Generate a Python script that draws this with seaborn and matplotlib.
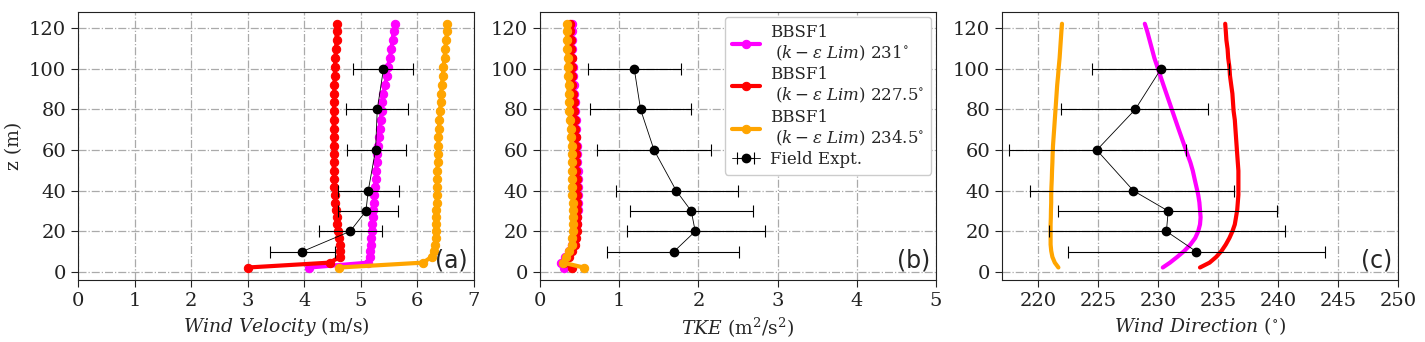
import numpy as np
import pandas as pd
import seaborn as sns
import matplotlib
matplotlib.use("Agg")
import matplotlib.pyplot as plt

# ---------------- data ----------------
heights = [2.2, 4.6, 7.4, 10.4, 13.5, 16.7, 20.0, 23.4, 26.9, 30.5, 34.2, 38.0,
           41.9, 45.8, 49.8, 53.9, 58.0, 62.2, 66.4, 70.6, 74.9, 79.2, 83.5, 87.8,
           92.1, 96.5, 100.9, 105.3, 109.7, 114.1, 118.5, 122.2]

u_231 = [4.09, 5.13, 5.16, 5.17, 5.18, 5.18, 5.19, 5.20, 5.21, 5.22, 5.23, 5.24,
         5.25, 5.26, 5.27, 5.28, 5.29, 5.30, 5.32, 5.33, 5.35, 5.37, 5.38, 5.40,
         5.43, 5.46, 5.48, 5.51, 5.54, 5.56, 5.58, 5.60]
u_2275 = [3.00, 4.45, 4.63, 4.64, 4.63, 4.61, 4.59, 4.58, 4.57, 4.56, 4.55, 4.54,
          4.53, 4.53, 4.52, 4.52, 4.52, 4.52, 4.52, 4.52, 4.52, 4.52, 4.53, 4.53,
          4.53, 4.54, 4.54, 4.55, 4.56, 4.57, 4.57, 4.58]
u_2345 = [4.62, 6.10, 6.25, 6.29, 6.31, 6.32, 6.32, 6.33, 6.33, 6.33, 6.34, 6.34,
          6.34, 6.35, 6.35, 6.36, 6.36, 6.37, 6.37, 6.38, 6.39, 6.40, 6.41, 6.42,
          6.43, 6.45, 6.46, 6.48, 6.49, 6.51, 6.52, 6.53]

k_231 = [0.30, 0.26, 0.32, 0.37, 0.41, 0.44, 0.46, 0.47, 0.47, 0.48, 0.48, 0.48,
         0.48, 0.48, 0.48, 0.47, 0.47, 0.47, 0.46, 0.46, 0.45, 0.44, 0.44, 0.43,
         0.43, 0.42, 0.42, 0.41, 0.41, 0.41, 0.40, 0.40]
k_2275 = [0.40, 0.30, 0.36, 0.41, 0.44, 0.46, 0.47, 0.47, 0.47, 0.47, 0.47, 0.47,
          0.47, 0.47, 0.46, 0.46, 0.46, 0.45, 0.45, 0.44, 0.44, 0.43, 0.43, 0.42,
          0.41, 0.41, 0.40, 0.40, 0.39, 0.39, 0.38, 0.38]
k_2345 = [0.55, 0.29, 0.33, 0.37, 0.40, 0.41, 0.42, 0.42, 0.42, 0.42, 0.42, 0.41,
          0.41, 0.41, 0.41, 0.40, 0.40, 0.40, 0.39, 0.39, 0.38, 0.37, 0.37, 0.36,
          0.36, 0.35, 0.35, 0.35, 0.34, 0.34, 0.34, 0.34]

d_231 = [230.4, 231.0, 231.6, 232.2, 232.7, 233.1, 233.35, 233.5, 233.55, 233.5,
         233.45, 233.35, 233.2, 233.05, 232.9, 232.7, 232.45, 232.2, 231.95, 231.7,
         231.45, 231.2, 230.95, 230.7, 230.45, 230.2, 229.95, 229.7, 229.5, 229.3,
         229.1, 228.9]
d_2275 = [233.5, 234.3, 234.85, 235.3, 235.65, 235.95, 236.2, 236.4, 236.5, 236.6,
          236.65, 236.7, 236.7, 236.7, 236.7, 236.65, 236.6, 236.55, 236.5, 236.45,
          236.4, 236.3, 236.25, 236.2, 236.1, 236.0, 235.95, 235.85, 235.8, 235.7,
          235.65, 235.6]
d_2345 = [221.7, 221.4, 221.2, 221.1, 221.05, 221.05, 221.05, 221.05, 221.07, 221.08,
          221.1, 221.1, 221.12, 221.15, 221.17, 221.2, 221.22, 221.25, 221.3, 221.35,
          221.4, 221.45, 221.5, 221.55, 221.6, 221.67, 221.73, 221.8, 221.85, 221.9,
          221.95, 222.0]

field_z = [10, 20, 30, 40, 60, 80, 100]
field_u = [3.96, 4.81, 5.09, 5.13, 5.26, 5.29, 5.40]
field_u_lo = [3.39, 4.26, 4.60, 4.59, 4.75, 4.73, 4.855]
field_u_hi = [4.55, 5.37, 5.66, 5.68, 5.79, 5.84, 5.93]
field_k = [1.69, 1.96, 1.91, 1.72, 1.44, 1.27, 1.19]
field_k_lo = [0.85, 1.10, 1.14, 0.96, 0.72, 0.63, 0.60]
field_k_hi = [2.51, 2.84, 2.69, 2.50, 2.16, 1.91, 1.78]
field_d = [233.2, 230.7, 230.85, 227.95, 224.9, 228.1, 230.25]
field_d_lo = [222.5, 220.9, 221.7, 219.35, 217.55, 221.9, 224.46]
field_d_hi = [243.9, 240.6, 239.95, 236.35, 232.3, 234.2, 235.95]

labels = [r"BBSF1" "\n" r" $(k-\varepsilon\ Lim)$ 231$^{\circ}$",
          r"BBSF1" "\n" r" $(k-\varepsilon\ Lim)$ 227.5$^{\circ}$",
          r"BBSF1" "\n" r" $(k-\varepsilon\ Lim)$ 234.5$^{\circ}$"]
colors = ["#ff00ff", "#ff0000", "#ffa500"]

# ---------------- style ----------------
sns.set_style("ticks")
plt.rcParams["font.family"] = ["DejaVu Serif"]
plt.rcParams["mathtext.fontset"] = "dejavuserif"
plt.rcParams["axes.edgecolor"] = "#222222"
plt.rcParams["xtick.color"] = "#222222"
plt.rcParams["ytick.color"] = "#222222"

fig = plt.figure(figsize=(14.25, 3.42), dpi=100)
w, h, b = 396 / 1425, 0.784, 0.181
ax1 = fig.add_axes([78 / 1425, b, w, h])
ax2 = fig.add_axes([540 / 1425, b, w, h])
ax3 = fig.add_axes([1002 / 1425, b, w, h])

series_u = [u_231, u_2275, u_2345]
series_k = [k_231, k_2275, k_2345]
series_d = [d_231, d_2275, d_2345]


def field(ax, x, lo, hi):
    x = np.array(x)
    xerr = np.vstack([x - np.array(lo), np.array(hi) - x])
    return ax.errorbar(x, field_z, xerr=xerr, color="black", marker="o", ms=6,
                       lw=0.6, elinewidth=0.8, capsize=4, capthick=0.8,
                       label="Field Expt.", zorder=4)


for vals, lab, c in zip(series_u, labels, colors):
    df = pd.DataFrame({"x": vals, "z": heights})
    sns.lineplot(data=df, x="x", y="z", orient="y", sort=False, ax=ax1, color=c,
                 lw=3, marker="o", ms=6, mec=c, label=lab, legend=False)
field(ax1, field_u, field_u_lo, field_u_hi)

for vals, lab, c in zip(series_k, labels, colors):
    df = pd.DataFrame({"x": vals, "z": heights})
    sns.lineplot(data=df, x="x", y="z", orient="y", sort=False, ax=ax2, color=c,
                 lw=3, marker="o", ms=6, mec=c, label=lab, legend=False)
field(ax2, field_k, field_k_lo, field_k_hi)

for vals, lab, c in zip(series_d, labels, colors):
    df = pd.DataFrame({"x": vals, "z": heights})
    sns.lineplot(data=df, x="x", y="z", orient="y", sort=False, ax=ax3, color=c,
                 lw=3, label=lab, legend=False)
field(ax3, field_d, field_d_lo, field_d_hi)

ax1.set_xlim(0, 7)
ax2.set_xlim(0, 5)
ax3.set_xlim(217, 250)
for ax in (ax1, ax2, ax3):
    ax.set_ylim(-4, 128)
    ax.set_yticks(np.arange(0, 121, 20))
    ax.grid(True, linestyle="-.", color="#aaaaaa", lw=0.9)
    ax.tick_params(labelsize=14, length=5, direction="out")
    ax.set_ylabel("")
ax1.set_xticks(range(0, 8))
ax2.set_xticks(range(0, 6))
ax3.set_xticks(range(220, 251, 5))

ax1.set_ylabel("z (m)", fontsize=13.5)
ax1.set_xlabel(r"$Wind\ Velocity$ (m/s)", fontsize=13.5)
ax2.set_xlabel(r"$TKE$ (m$^2$/s$^2$)", fontsize=13.5)
ax3.set_xlabel(r"$Wind\ Direction$ ($^{\circ}$)", fontsize=13.5)

for ax, t in zip((ax1, ax2, ax3), ("(a)", "(b)", "(c)")):
    ax.text(0.985, 0.03, t, transform=ax.transAxes, ha="right", va="bottom",
            fontsize=17, family=["DejaVu Sans"])

ax2.legend(loc="upper right", fontsize=12, framealpha=1.0, handlelength=1.7,
           borderaxespad=0.3, labelspacing=0.2, handletextpad=0.6)

fig.savefig("out.png", dpi=100)
